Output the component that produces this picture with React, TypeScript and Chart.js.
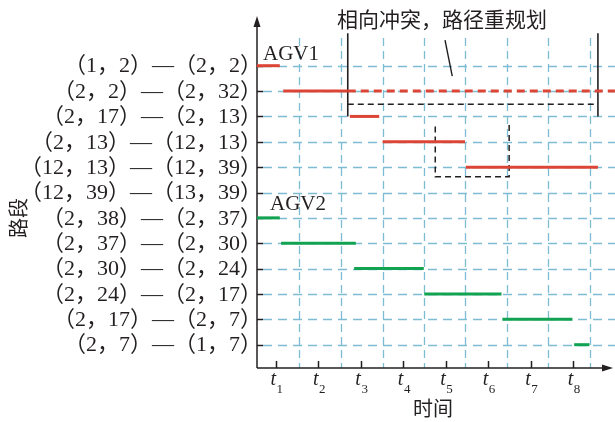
import { useEffect, useRef } from "react";
import { Chart, registerables } from "chart.js";

Chart.register(...registerables);

// Road segments, top to bottom
const routeLabels = [
  "（1，2）—（2，2）",
  "（2，2）—（2，32）",
  "（2，17）—（2，13）",
  "（2，13）—（12，13）",
  "（12，13）—（12，39）",
  "（12，39）—（13，39）",
  "（2，38）—（2，37）",
  "（2，37）—（2，30）",
  "（2，30）—（2，24）",
  "（2，24）—（2，17）",
  "（2，17）—（2，7）",
  "（2，7）—（1，7）",
];

// Time axis: t1..t8 ticks and the dashed time marks between them
const timeTickValues = [1, 2, 3, 4, 5, 6, 7, 8];
const timeTickSubs = ["1", "2", "3", "4", "5", "6", "7", "8"];
const timeMarks = [1.55, 2.52, 3.51, 4.48, 5.46, 6.43, 7.41, 8.39];

// AGV1 occupancy: row index (1-based), enter time, leave time
const agv1Rows = [1, 2, 3, 4, 5];
const agv1Start = [0.55, 1.17, 2.74, 3.51, 5.47];
const agv1End = [1.09, 2.69, 3.43, 5.45, 8.58];
// Originally planned occupancy of row 2 dropped after re-planning
const agv1PlanRow = 2;
const agv1PlanStart = 2.69;
const agv1PlanEnd = 8.98;

// AGV2 occupancy
const agv2Rows = [7, 8, 9, 10, 11, 12];
const agv2Start = [0.55, 1.12, 2.84, 4.49, 6.33, 8.02];
const agv2End = [1.09, 2.88, 4.48, 6.31, 7.98, 8.38];

// Conflict bracket (solid side posts + dashed bar) and the shifted window box
const bracketLeft = 2.69;
const bracketRight = 8.58;
const bracketTop = -0.28;
const bracketBottom = 3.0;
const bracketBar = 2.52;
const boxX = [4.75, 4.75, 6.49, 6.49];
const boxY = [3.4, 5.38, 5.38, 3.2];
const leaderX = [4.98, 5.15];
const leaderY = [-0.01, 1.41];

const noteText = "相向冲突，路径重规划";
const agv1Label = "AGV1";
const agv2Label = "AGV2";
const xTitle = "时间";
const yTitle = "路段";

const RED = "#dc4535";
const GREEN = "#12a352";
const GRID = "#7dbdd3";
const INK = "#231f20";
const SERIF = '"Liberation Serif", "Noto Sans CJK SC", serif';
const CJK = '"Noto Sans CJK SC", sans-serif';

function seg(x0: number, x1: number, yv: number, color: string, dash: number[] = []) {
  return {
    data: [
      { x: x0, y: yv },
      { x: x1, y: yv },
    ],
    borderColor: color,
    borderWidth: 3,
    borderDash: dash,
    pointRadius: 0,
    clip: false as const,
  };
}

function poly(xs: number[], ys: number[], color: string, width: number, dash: number[] = []) {
  return {
    data: xs.map((v, i) => ({ x: v, y: ys[i] })),
    borderColor: color,
    borderWidth: width,
    borderDash: dash,
    pointRadius: 0,
    clip: false as const,
  };
}

const framePlugin = {
  id: "frame",
  beforeDatasetsDraw(chart: any) {
    const { ctx, chartArea: a, scales } = chart;
    const x = scales.x;
    const y = scales.y;
    const line = (x0: number, y0: number, x1: number, y1: number) => {
      ctx.beginPath();
      ctx.moveTo(x0, y0);
      ctx.lineTo(x1, y1);
      ctx.stroke();
    };
    ctx.save();
    // grid
    ctx.strokeStyle = GRID;
    ctx.lineWidth = 1.3;
    ctx.setLineDash([9, 6]);
    routeLabels.forEach((_, i) => {
      const py = Math.round(y.getPixelForValue(i + 1)) + 0.5;
      line(a.left + 6, py, a.right, py);
    });
    ctx.setLineDash([8, 5]);
    timeMarks.forEach((t) => {
      const px = Math.round(x.getPixelForValue(t)) + 0.5;
      line(px, a.top, px, a.bottom);
    });
    ctx.setLineDash([]);

    // axes
    ctx.strokeStyle = INK;
    ctx.fillStyle = INK;
    ctx.lineWidth = 1.5;
    const ax = a.left;
    const ay = a.bottom;
    line(ax, ay, ax, 22);
    line(ax, ay, 606, ay);
    ctx.beginPath();
    ctx.moveTo(ax, 16);
    ctx.lineTo(ax - 3.5, 27);
    ctx.lineTo(ax + 3.5, 27);
    ctx.closePath();
    ctx.fill();
    ctx.beginPath();
    ctx.moveTo(613, ay);
    ctx.lineTo(602, ay - 3.5);
    ctx.lineTo(602, ay + 3.5);
    ctx.closePath();
    ctx.fill();

    // inward tick marks
    ctx.lineWidth = 1.5;
    routeLabels.forEach((_, i) => {
      const py = Math.round(y.getPixelForValue(i + 1)) + 0.5;
      line(ax, py, ax + 6, py);
    });
    timeTickValues.forEach((t) => {
      const px = Math.round(x.getPixelForValue(t)) + 0.5;
      line(px, ay, px, ay - 7);
    });
    ctx.restore();
  },
  afterDraw(chart: any) {
    const { ctx, chartArea: a, scales } = chart;
    const x = scales.x;
    const y = scales.y;
    ctx.save();
    ctx.fillStyle = INK;

    // road segment labels
    ctx.font = `22px ${SERIF}`;
    ctx.textAlign = "right";
    ctx.textBaseline = "middle";
    routeLabels.forEach((lab, i) => {
      ctx.fillText(lab, a.left + 5, y.getPixelForValue(i + 1) + 1);
    });

    // time tick labels t_i
    ctx.textBaseline = "alphabetic";
    timeTickValues.forEach((t, i) => {
      const px = x.getPixelForValue(t);
      ctx.font = `italic 20px ${SERIF}`;
      ctx.textAlign = "right";
      ctx.fillText("t", px, 385);
      ctx.font = `13px ${SERIF}`;
      ctx.textAlign = "left";
      ctx.fillText(timeTickSubs[i], px + 0.5, 393);
    });

    // axis titles
    ctx.font = `20px ${CJK}`;
    ctx.textAlign = "center";
    ctx.textBaseline = "middle";
    ctx.fillText(xTitle, 433, 408);
    ctx.save();
    ctx.translate(18, 218);
    ctx.rotate(-Math.PI / 2);
    ctx.fillText(yTitle, 0, 0);
    ctx.restore();

    // vehicle labels and the conflict note
    ctx.font = `21px ${SERIF}`;
    ctx.textAlign = "left";
    ctx.textBaseline = "alphabetic";
    ctx.fillText(agv1Label, 263, 60);
    ctx.fillText(agv2Label, 270, 210);
    ctx.font = `21px ${CJK}`;
    ctx.textAlign = "center";
    ctx.textBaseline = "middle";
    ctx.fillText(noteText, 442, 19);
    ctx.restore();
  },
};

export default function App() {
  const ref = useRef<HTMLCanvasElement | null>(null);

  useEffect(() => {
    if (!ref.current) return;
    const datasets: any[] = [];
    agv1Rows.forEach((r, i) => datasets.push(seg(agv1Start[i], agv1End[i], r, RED)));
    datasets.push(seg(agv1PlanStart, agv1PlanEnd, agv1PlanRow, RED, [8, 5]));
    agv2Rows.forEach((r, i) => datasets.push(seg(agv2Start[i], agv2End[i], r, GREEN)));
    datasets.push(poly([bracketLeft, bracketLeft], [bracketTop, bracketBottom], INK, 1.6));
    datasets.push(poly([bracketRight, bracketRight], [bracketTop, bracketBottom], INK, 1.6));
    datasets.push(poly([bracketLeft, bracketRight], [bracketBar, bracketBar], INK, 1.5, [6, 4]));
    datasets.push(poly(boxX, boxY, INK, 1.5, [6, 4]));
    datasets.push(poly(leaderX, leaderY, INK, 1.4));

    const chart = new Chart(ref.current, {
      type: "line",
      data: { datasets },
      options: {
        responsive: false,
        animation: false,
        devicePixelRatio: 1,
        layout: { padding: { left: 257, right: 0, top: 38, bottom: 54 } },
        plugins: { legend: { display: false }, tooltip: { enabled: false } },
        scales: {
          x: { type: "linear", min: 0.553, max: 8.982, display: false },
          y: { type: "linear", min: -0.092, max: 12.919, reverse: true, display: false },
        },
      },
      plugins: [framePlugin],
    });
    return () => chart.destroy();
  }, []);

  return (
    <div style={{ position: "absolute", left: 0, top: 0, width: 615, height: 422, background: "#fff" }}>
      <canvas ref={ref} width={615} height={422} style={{ display: "block" }} />
    </div>
  );
}
